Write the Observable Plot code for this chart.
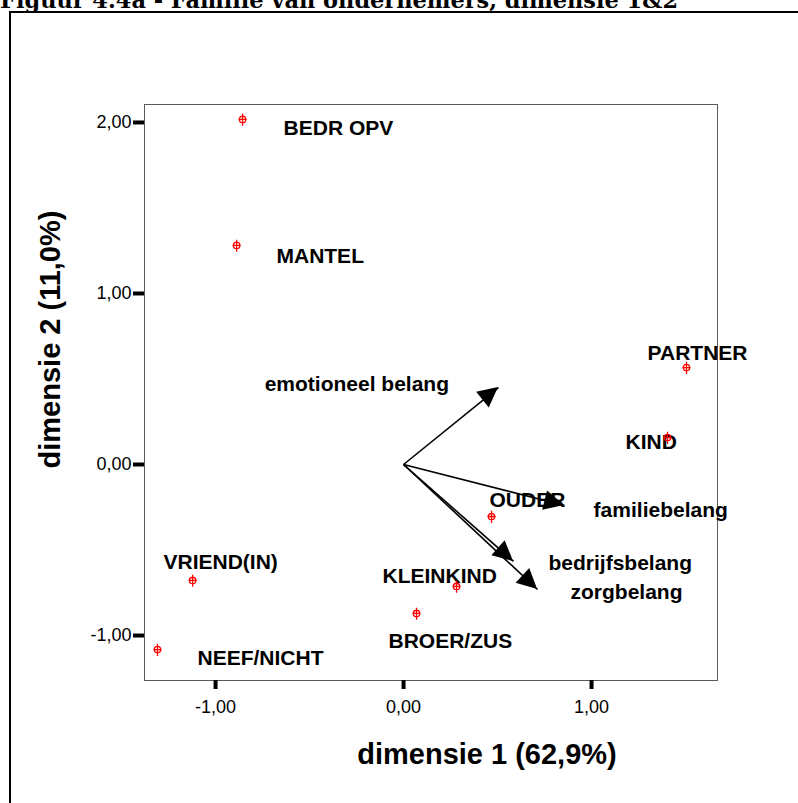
<!DOCTYPE html>
<html><head><meta charset="utf-8">
<script src="https://cdn.jsdelivr.net/npm/d3@7"></script>
<script src="https://cdn.jsdelivr.net/npm/@observablehq/plot@0.6"></script>
<style>
html,body{margin:0;padding:0;background:#fff;width:798px;height:803px;overflow:hidden;position:relative;}
#title{position:absolute;left:0;top:0;}
#frame{position:absolute;left:9px;top:11px;width:820px;height:820px;border-left:2px solid #000;border-top:2px solid #000;}
#chart{position:absolute;left:0;top:0;}
#chart svg{background:transparent;}
</style></head><body>
<div id="frame"></div>
<svg id="title" width="798" height="20"><text x="0" y="8" font-family="DejaVu Serif, Liberation Serif, serif" font-weight="bold" font-size="22" textLength="678" lengthAdjust="spacingAndGlyphs">Figuur 4.4a - Familie van ondernemers, dimensie 1&amp;2</text></svg>
<div id="chart"></div>
<script>
// Category points (object scores)
const categories = ["BEDR OPV", "MANTEL", "PARTNER", "KIND", "OUDER", "KLEINKIND", "BROER/ZUS", "VRIEND(IN)", "NEEF/NICHT"];
const catDim1 = [-0.856, -0.888, 1.505, 1.404, 0.468, 0.282, 0.069, -1.122, -1.309];
const catDim2 = [2.018, 1.281, 0.567, 0.158, -0.304, -0.713, -0.871, -0.678, -1.082];
const catLabelDim1 = [-0.638, -0.676, 1.298, 1.181, 0.457, -0.112, -0.080, -1.277, -1.096];
const catLabelDim2 = [1.965, 1.216, 0.649, 0.129, -0.211, -0.655, -1.035, -0.573, -1.135];

// Variable vectors
const variables = ["emotioneel belang", "familiebelang", "bedrijfsbelang", "zorgbelang"];
const varDim1 = [0.505, 0.856, 0.585, 0.713];
const varDim2 = [0.450, -0.240, -0.567, -0.731];
const varLabelDim1 = [-0.739, 1.011, 0.771, 0.888];
const varLabelDim2 = [0.468, -0.269, -0.579, -0.749];

const xTicks = [-1, 0, 1];
const yTicks = [-1, 0, 1, 2];
const xTitle = "dimensie 1 (62,9%)";
const yTitle = "dimensie 2 (11,0%)";

const points = categories.map((c, i) => ({name: c, x: catDim1[i], y: catDim2[i], lx: catLabelDim1[i], ly: catLabelDim2[i]}));
const vectors = variables.map((v, i) => ({name: v, x: varDim1[i], y: varDim2[i], lx: varLabelDim1[i], ly: varLabelDim2[i]}));

const fmt = d => d.toFixed(2).replace(".", ",");

const crossCircle = {
  draw(ctx, size) {
    const r = Math.sqrt(size / Math.PI);
    ctx.moveTo(r, 0);
    ctx.arc(0, 0, r, 0, 2 * Math.PI);
    ctx.moveTo(0, -1.8 * r);
    ctx.lineTo(0, 2.0 * r);
    ctx.moveTo(-1.3 * r, 0);
    ctx.lineTo(1.3 * r, 0);
  }
};

function arrowHeads(data) {
  return (index, scales) => {
    const g = d3.create("svg:g").attr("aria-label", "arrowheads");
    const X = scales.x, Y = scales.y;
    for (const d of data) {
      const x0 = X(0), y0 = Y(0);
      const x1 = X(d.x), y1 = Y(d.y);
      const a = Math.atan2(y1 - y0, x1 - x0);
      const L = 20, W = 10;
      const bx = x1 - L * Math.cos(a), by = y1 - L * Math.sin(a);
      const px = -Math.sin(a) * W, py = Math.cos(a) * W;
      g.append("path")
        .attr("d", `M${x1},${y1}L${bx + px},${by + py}L${bx - px},${by - py}Z`)
        .attr("fill", "#000");
    }
    return g.node();
  };
}

const marks = [
  Plot.frame({stroke: "#5a5a5a", strokeWidth: 1}),
  Plot.axisX(xTicks, {tickSize: 9, tickPadding: 11, strokeWidth: 4, tickFormat: fmt, fontSize: 18, label: null}),
  Plot.axisY(yTicks, {tickSize: 11, tickPadding: 2, strokeWidth: 4, tickFormat: fmt, fontSize: 18, label: null}),
  Plot.text([xTitle], {frameAnchor: "bottom", dx: 56, dy: 74, text: d => d, fontSize: 29, fontWeight: "bold", textAnchor: "middle", lineAnchor: "middle"}),
  Plot.text([yTitle], {frameAnchor: "left", dx: -94, dy: -53, rotate: -90, text: d => d, fontSize: 29, fontWeight: "bold", textAnchor: "middle", lineAnchor: "middle"}),
  Plot.text(points, {x: "lx", y: "ly", text: "name", textAnchor: "start", lineAnchor: "middle", fontSize: 21, fontWeight: "bold", fill: "#000"}),
  Plot.text(vectors, {x: "lx", y: "ly", text: "name", textAnchor: "start", lineAnchor: "middle", fontSize: 21, fontWeight: "bold", fill: "#000"}),
  Plot.link(vectors, {x1: () => 0, y1: () => 0, x2: "x", y2: "y", stroke: "#000", strokeWidth: 1.6}),
  arrowHeads(vectors),
  Plot.dot(points, {x: "x", y: "y", r: 3.2, symbol: crossCircle, stroke: "#ff0000", fill: "none", strokeWidth: 1.3})
];

const chart = Plot.plot({
  width: 798,
  height: 803,
  marginLeft: 144,
  marginRight: 81,
  marginTop: 104,
  marginBottom: 123,
  style: {fontFamily: "'Liberation Sans', Arial, sans-serif", fontSize: "18px", background: "transparent", color: "#000"},
  x: {domain: [-1.378, 1.670], axis: null},
  y: {domain: [-1.263, 2.105], axis: null},
  marks
});
document.getElementById("chart").appendChild(chart);
</script>
</body></html>
